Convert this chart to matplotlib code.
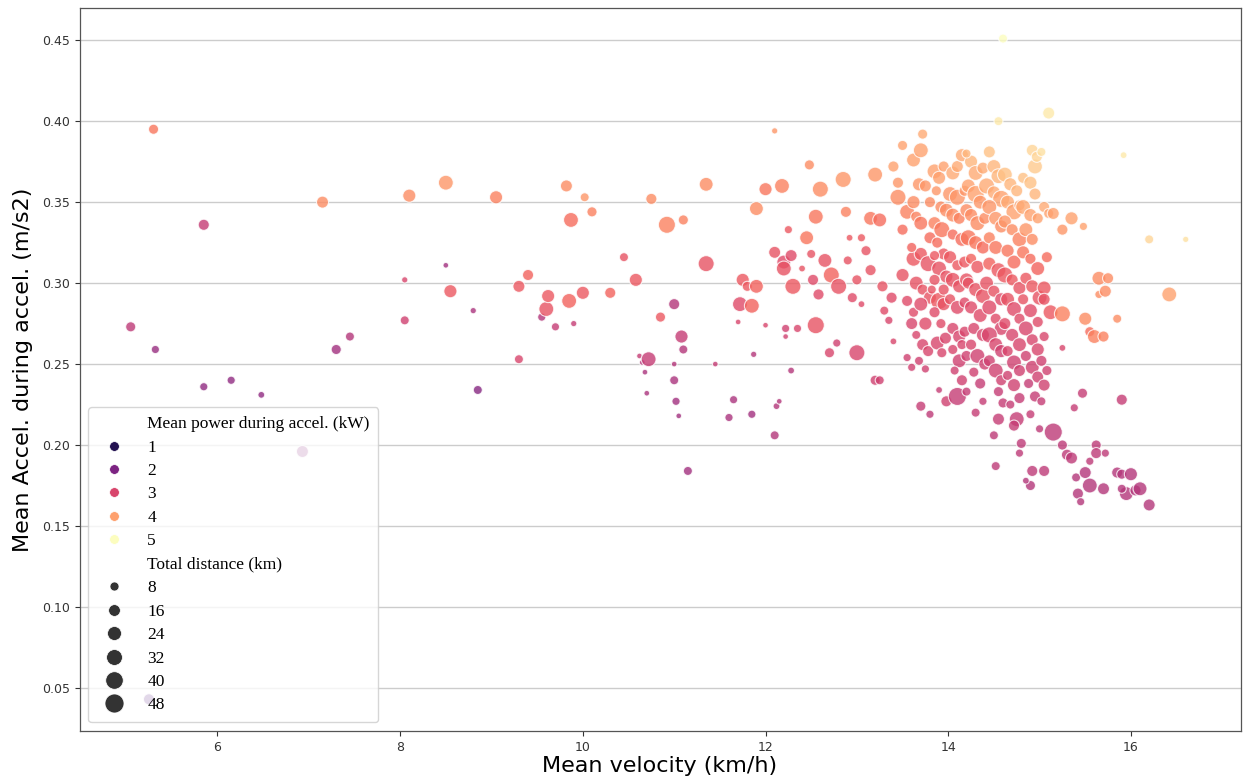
import matplotlib
matplotlib.use("Agg")
import matplotlib.pyplot as plt
from matplotlib.lines import Line2D
from matplotlib.colors import Normalize
import numpy as np

# mean velocity (km/h), grouped in vertical bands
velocity = [
    # left part, up to 13.6
    5.30, 5.05, 5.32, 5.85, 5.85, 6.15, 6.48, 6.93, 5.25, 7.15, 7.30, 7.45, 8.05, 8.05, 8.10, 8.50, 8.50, 8.55, 8.80, 8.85,
    9.05, 9.30, 9.30, 9.40, 9.55, 9.60, 9.62, 9.70, 9.82, 9.85, 9.87, 9.90, 10.00, 10.02, 10.10, 10.30, 10.45, 10.58, 10.62, 10.65,
    10.72, 10.68, 10.70, 10.75, 10.85, 10.92, 11.00, 11.00, 11.00, 11.02, 11.05, 11.08, 11.10, 11.10, 11.15, 11.35, 11.35, 11.45, 11.60, 11.65,
    11.70, 11.72, 11.75, 11.80, 11.85, 11.85, 11.87, 11.90, 11.90, 12.00, 12.00, 12.10, 12.10, 12.10, 12.12, 12.15, 12.18, 12.20, 12.20, 12.22,
    12.22, 12.25, 12.28, 12.28, 12.30, 12.35, 12.40, 12.45, 12.48, 12.50, 12.52, 12.55, 12.55, 12.58, 12.60, 12.65, 12.70, 12.72, 12.78, 12.80,
    12.85, 12.88, 12.90, 12.92, 12.95, 13.00, 13.00, 13.05, 13.05, 13.10, 13.15, 13.15, 13.20, 13.20, 13.25, 13.25, 13.28, 13.30, 13.35, 13.38,
    13.40, 13.45, 13.45, 13.50, 13.50, 13.50, 13.55, 13.55, 13.55, 13.60, 13.60,
    # 13.6 - 13.8
    13.62, 13.70, 13.72, 13.68, 13.75, 13.65, 13.70, 13.62, 13.70, 13.78, 13.65, 13.72, 13.80, 13.62, 13.70, 13.75, 13.65, 13.72, 13.78, 13.68,
    13.70, 13.80, 13.75, 13.60, 13.80, 13.80, 13.62,
    # 13.8 - 14.0
    13.85, 13.90, 13.95, 13.87, 13.92, 13.98, 13.85, 13.93, 13.88, 13.95, 13.85, 13.90, 13.98, 13.85, 13.90, 13.95, 13.85, 13.92, 13.88, 13.97,
    13.93, 13.90, 13.98, 13.95, 13.82,
    # 14.0 - 14.2
    14.05, 14.10, 14.15, 14.02, 14.10, 14.18, 14.05, 14.12, 14.20, 14.05, 14.15, 14.02, 14.10, 14.18, 14.05, 14.12, 14.20, 14.02, 14.10, 14.18,
    14.05, 14.12, 14.18, 14.05, 14.12, 14.20, 14.07, 14.15, 14.10, 14.20, 14.15,
    # 14.2 - 14.4
    14.25, 14.30, 14.38, 14.22, 14.30, 14.35, 14.25, 14.32, 14.40, 14.22, 14.30, 14.38, 14.25, 14.32, 14.22, 14.30, 14.38, 14.25, 14.35, 14.28,
    14.38, 14.25, 14.32, 14.40, 14.28, 14.35, 14.30, 14.38,
    # 14.4 - 14.6
    14.45, 14.50, 14.55, 14.42, 14.50, 14.58, 14.45, 14.52, 14.58, 14.45, 14.52, 14.45, 14.55, 14.42, 14.50, 14.58, 14.45, 14.52, 14.58, 14.45,
    14.52, 14.58, 14.45, 14.52, 14.58, 14.55, 14.55, 14.50, 14.52, 14.60,
    # 14.6 - 14.8
    14.62, 14.68, 14.75, 14.65, 14.72, 14.78, 14.62, 14.70, 14.78, 14.65, 14.72, 14.62, 14.70, 14.78, 14.65, 14.72, 14.78, 14.62, 14.70, 14.78,
    14.65, 14.72, 14.78, 14.65, 14.72, 14.78, 14.68, 14.75, 14.80, 14.72, 14.78,
    # 14.8 - 15.0
    14.82, 14.90, 14.95, 14.82, 14.90, 14.98, 14.85, 14.92, 14.82, 14.90, 14.98, 14.85, 14.92, 15.00, 14.82, 14.90, 14.98, 14.85, 14.92, 14.98,
    14.85, 14.92, 14.98, 14.88, 14.95, 14.90, 14.92, 14.90, 14.85, 15.00, 14.95, 14.92, 14.97,
    # 15.0 - 15.3
    15.02, 15.05, 15.10, 15.08, 15.05, 15.05, 15.12, 15.05, 15.02, 15.08, 15.05, 15.02, 15.05, 15.15, 15.15, 15.25, 15.25, 15.25, 15.30, 15.25,
    # above 15.3
    15.35, 15.35, 15.65, 15.75, 15.38, 15.47, 15.40, 15.42, 15.45, 15.50, 15.55, 15.55, 15.62, 15.62, 15.72, 15.70, 15.50, 15.48, 15.55, 15.60,
    15.65, 15.72, 15.70, 15.85, 15.85, 15.90, 15.90, 15.95, 16.00, 16.05, 16.10, 16.20, 15.90, 15.92, 16.20, 16.60, 16.42,
    # top outliers
    14.60, 14.55, 15.10, 14.20, 13.40,
]

# mean acceleration during acceleration (m/s2)
accel = [
    0.395, 0.273, 0.259, 0.336, 0.236, 0.240, 0.231, 0.196, 0.043, 0.350, 0.259, 0.267, 0.302, 0.277, 0.354, 0.311, 0.362, 0.295, 0.283, 0.234,
    0.353, 0.298, 0.253, 0.305, 0.279, 0.284, 0.292, 0.273, 0.360, 0.289, 0.339, 0.275, 0.294, 0.353, 0.344, 0.294, 0.316, 0.302, 0.255, 0.251,
    0.253, 0.245, 0.232, 0.352, 0.279, 0.336, 0.287, 0.250, 0.240, 0.227, 0.218, 0.267, 0.339, 0.259, 0.184, 0.312, 0.361, 0.250, 0.217, 0.228,
    0.276, 0.287, 0.302, 0.298, 0.286, 0.219, 0.256, 0.298, 0.346, 0.358, 0.274, 0.394, 0.319, 0.206, 0.224, 0.227, 0.360, 0.313, 0.309, 0.272,
    0.267, 0.333, 0.317, 0.246, 0.298, 0.272, 0.309, 0.328, 0.373, 0.318, 0.302, 0.341, 0.274, 0.293, 0.358, 0.314, 0.257, 0.305, 0.263, 0.298,
    0.364, 0.344, 0.314, 0.328, 0.291, 0.257, 0.302, 0.328, 0.287, 0.320, 0.340, 0.308, 0.367, 0.240, 0.240, 0.339, 0.298, 0.283, 0.277, 0.291,
    0.264, 0.362, 0.353, 0.385, 0.333, 0.305, 0.344, 0.254, 0.289, 0.248, 0.275,
    0.376, 0.382, 0.392, 0.361, 0.360, 0.341, 0.337, 0.315, 0.318, 0.312, 0.300, 0.296, 0.291, 0.282, 0.287, 0.275, 0.268, 0.262, 0.258, 0.252,
    0.224, 0.219, 0.247, 0.322, 0.328, 0.350, 0.350,
    0.369, 0.365, 0.372, 0.357, 0.347, 0.345, 0.337, 0.333, 0.325, 0.318, 0.317, 0.309, 0.304, 0.302, 0.289, 0.287, 0.282, 0.275, 0.263, 0.266,
    0.257, 0.234, 0.227, 0.296, 0.296,
    0.368, 0.372, 0.379, 0.355, 0.353, 0.357, 0.342, 0.340, 0.345, 0.330, 0.327, 0.316, 0.311, 0.313, 0.302, 0.298, 0.302, 0.290, 0.285, 0.288,
    0.272, 0.267, 0.270, 0.259, 0.252, 0.255, 0.246, 0.240, 0.230, 0.233, 0.262,
    0.375, 0.368, 0.371, 0.360, 0.355, 0.350, 0.342, 0.337, 0.340, 0.328, 0.325, 0.322, 0.315, 0.310, 0.300, 0.296, 0.292, 0.285, 0.280, 0.272,
    0.268, 0.262, 0.255, 0.250, 0.245, 0.238, 0.220, 0.227,
    0.381, 0.372, 0.366, 0.360, 0.356, 0.352, 0.347, 0.340, 0.335, 0.328, 0.322, 0.312, 0.308, 0.300, 0.295, 0.290, 0.285, 0.278, 0.272, 0.268,
    0.262, 0.258, 0.252, 0.246, 0.240, 0.233, 0.216, 0.206, 0.187, 0.226,
    0.367, 0.361, 0.357, 0.350, 0.344, 0.348, 0.338, 0.333, 0.327, 0.320, 0.313, 0.305, 0.302, 0.297, 0.290, 0.284, 0.278, 0.275, 0.268, 0.262,
    0.258, 0.251, 0.246, 0.243, 0.237, 0.229, 0.225, 0.216, 0.201, 0.212, 0.195,
    0.365, 0.362, 0.355, 0.347, 0.342, 0.340, 0.333, 0.327, 0.319, 0.315, 0.309, 0.303, 0.298, 0.291, 0.290, 0.283, 0.276, 0.272, 0.265, 0.259,
    0.255, 0.248, 0.242, 0.238, 0.230, 0.219, 0.184, 0.175, 0.178, 0.210, 0.372, 0.382, 0.378,
    0.381, 0.347, 0.343, 0.316, 0.297, 0.290, 0.282, 0.267, 0.252, 0.246, 0.237, 0.227, 0.184, 0.208, 0.343, 0.333, 0.260, 0.200, 0.194, 0.281,
    0.192, 0.340, 0.303, 0.303, 0.223, 0.232, 0.180, 0.170, 0.165, 0.183, 0.175, 0.190, 0.200, 0.195, 0.195, 0.173, 0.278, 0.335, 0.270, 0.267,
    0.293, 0.295, 0.267, 0.278, 0.183, 0.182, 0.228, 0.170, 0.182, 0.172, 0.173, 0.163, 0.173, 0.379, 0.327, 0.327, 0.293,
    0.451, 0.400, 0.405, 0.380, 0.372,
]

# mean power during acceleration (kW)
power = [
    3.6, 2.7, 2.3, 2.8, 2.2, 2.2, 2.2, 2.2, 1.5, 3.8, 2.4, 2.6, 3.0, 2.9, 3.8, 2.4, 3.9, 3.3, 2.5, 2.1,
    3.7, 3.3, 3.0, 3.4, 2.6, 3.2, 3.3, 2.8, 3.8, 3.4, 3.5, 2.8, 3.3, 3.9, 3.7, 3.4, 3.2, 3.3, 2.8, 2.6,
    2.8, 2.5, 2.5, 3.8, 3.3, 3.7, 2.6, 2.6, 2.5, 2.4, 2.4, 2.8, 3.7, 2.6, 2.4, 3.2, 3.8, 2.8, 2.5, 2.5,
    3.0, 3.1, 3.3, 3.3, 3.4, 2.4, 2.6, 3.4, 3.8, 3.6, 3.0, 3.9, 3.2, 2.6, 2.6, 2.6, 3.7, 3.1, 3.2, 2.9,
    2.9, 3.3, 3.1, 2.6, 3.3, 3.0, 3.2, 3.6, 3.8, 3.2, 3.1, 3.6, 3.2, 3.1, 3.8, 3.2, 3.0, 3.4, 2.9, 3.2,
    3.9, 3.7, 3.2, 3.3, 3.1, 3.0, 3.2, 3.3, 3.1, 3.2, 3.6, 3.2, 3.9, 2.9, 2.9, 3.5, 3.2, 3.1, 3.0, 3.1,
    3.0, 3.9, 3.8, 4.0, 3.5, 3.2, 3.7, 2.9, 3.1, 2.9, 3.0,
    4.0, 4.0, 4.1, 3.9, 3.9, 3.7, 3.6, 3.3, 3.3, 3.2, 3.2, 3.2, 3.2, 3.1, 3.1, 3.1, 3.0, 3.0, 3.0, 2.9,
    2.8, 2.7, 2.9, 3.4, 3.5, 3.8, 3.8,
    4.0, 4.0, 4.0, 3.9, 3.8, 3.8, 3.7, 3.6, 3.5, 3.3, 3.3, 3.2, 3.2, 3.2, 3.3, 3.2, 3.1, 3.1, 3.0, 3.0,
    3.0, 2.8, 2.9, 3.2, 3.2,
    4.1, 4.1, 4.1, 3.9, 3.9, 3.9, 3.8, 3.7, 3.8, 3.5, 3.5, 3.3, 3.3, 3.3, 3.2, 3.2, 3.2, 3.2, 3.1, 3.1,
    3.0, 3.0, 3.0, 3.0, 2.9, 2.9, 2.9, 2.9, 2.8, 2.8, 3.0,
    4.2, 4.1, 4.1, 4.0, 4.0, 3.9, 3.8, 3.8, 3.8, 3.6, 3.6, 3.5, 3.4, 3.3, 3.2, 3.2, 3.2, 3.1, 3.1, 3.0,
    3.0, 3.0, 2.9, 2.9, 2.9, 2.8, 2.8, 2.8,
    4.3, 4.2, 4.2, 4.1, 4.1, 4.0, 3.9, 3.9, 3.8, 3.7, 3.6, 3.4, 3.3, 3.2, 3.2, 3.1, 3.1, 3.1, 3.0, 3.0,
    3.0, 2.9, 2.9, 2.9, 2.9, 2.8, 2.8, 2.7, 2.7, 2.8,
    4.3, 4.2, 4.2, 4.1, 4.0, 4.0, 3.9, 3.8, 3.7, 3.6, 3.5, 3.3, 3.3, 3.2, 3.2, 3.1, 3.1, 3.1, 3.0, 3.0,
    3.0, 2.9, 2.9, 2.9, 2.9, 2.8, 2.8, 2.8, 2.7, 2.8, 2.7,
    4.3, 4.3, 4.2, 4.1, 4.0, 4.0, 3.9, 3.8, 3.6, 3.5, 3.4, 3.3, 3.3, 3.2, 3.2, 3.1, 3.1, 3.0, 3.0, 3.0,
    2.9, 2.9, 2.9, 2.8, 2.8, 2.8, 2.7, 2.6, 2.6, 2.7, 4.4, 4.5, 4.5,
    4.6, 4.1, 4.0, 3.5, 3.3, 3.2, 3.3, 3.0, 2.9, 2.9, 2.9, 2.8, 2.7, 2.7, 4.0, 3.9, 3.0, 2.7, 2.7, 3.7,
    2.7, 4.0, 3.8, 3.8, 2.8, 2.8, 2.6, 2.6, 2.6, 2.6, 2.6, 2.7, 2.7, 2.7, 2.7, 2.6, 3.8, 4.0, 3.5, 3.7,
    3.8, 3.8, 3.7, 3.8, 2.6, 2.6, 2.8, 2.6, 2.6, 2.6, 2.6, 2.6, 2.6, 4.7, 4.5, 4.6, 4.0,
    4.9, 4.7, 4.7, 4.2, 4.0,
]

# total distance (km)
distance = [
    11, 11, 6, 14, 6, 6, 3, 17, 14, 17, 11, 8, 2, 8, 21, 1, 28, 21, 2, 8,
    21, 17, 8, 14, 6, 28, 21, 6, 17, 28, 28, 2, 21, 8, 11, 14, 8, 21, 1, 1,
    28, 1, 1, 14, 11, 38, 14, 1, 8, 6, 1, 21, 11, 8, 8, 33, 24, 1, 6, 6,
    1, 28, 21, 11, 28, 6, 2, 24, 24, 21, 1, 2, 17, 8, 3, 1, 28, 24, 28, 6,
    1, 6, 17, 3, 33, 6, 3, 24, 11, 8, 14, 28, 38, 14, 33, 24, 11, 33, 6, 33,
    33, 14, 8, 3, 11, 33, 11, 6, 3, 11, 24, 14, 28, 11, 8, 24, 14, 8, 6, 14,
    3, 14, 33, 11, 14, 21, 28, 6, 14, 6, 17,
    24, 28, 11, 21, 17, 14, 24, 28, 21, 33, 24, 14, 21, 11, 24, 21, 8, 17, 14, 8,
    11, 6, 6, 11, 17, 14, 21,
    28, 21, 14, 11, 17, 24, 21, 33, 14, 17, 11, 28, 21, 14, 38, 21, 14, 11, 24, 17,
    11, 3, 14, 14, 8,
    24, 17, 21, 28, 33, 14, 24, 17, 21, 14, 24, 21, 14, 17, 28, 21, 24, 14, 24, 14,
    17, 21, 14, 11, 24, 14, 8, 14, 43, 8, 11,
    21, 28, 17, 24, 38, 24, 21, 28, 17, 33, 24, 21, 14, 21, 17, 24, 28, 21, 24, 17,
    21, 14, 28, 17, 11, 14, 8, 6,
    17, 24, 28, 33, 21, 38, 28, 24, 21, 17, 24, 21, 28, 24, 17, 21, 28, 14, 24, 33,
    24, 21, 17, 28, 14, 11, 17, 8, 8, 11,
    28, 21, 17, 24, 33, 14, 21, 17, 28, 21, 24, 33, 17, 21, 24, 28, 14, 17, 21, 24,
    14, 28, 17, 11, 21, 14, 8, 28, 11, 14, 6,
    14, 21, 17, 28, 21, 14, 24, 17, 21, 14, 24, 17, 21, 28, 14, 24, 14, 28, 17, 21,
    14, 24, 17, 11, 14, 8, 14, 11, 3, 6, 28, 17, 14,
    8, 14, 11, 14, 24, 17, 28, 11, 14, 11, 17, 8, 14, 43, 17, 14, 3, 11, 14, 33,
    17, 21, 24, 14, 6, 11, 8, 14, 6, 17, 28, 6, 11, 14, 6, 17, 21, 6, 11, 24,
    6, 17, 14, 8, 14, 11, 14, 24, 21, 14, 24, 17, 8, 3, 8, 2, 28,
    8, 8, 17, 8, 14,
]

power_ticks = [1, 2, 3, 4, 5]
distance_ticks = [8, 16, 24, 32, 40, 48]

assert len(velocity) == len(accel) == len(power) == len(distance), (
    len(velocity), len(accel), len(power), len(distance))

cmap = plt.get_cmap("magma")
norm = Normalize(vmin=0.35, vmax=4.9)


def marker_area(d):
    return 13 + 3.63 * np.asarray(d, dtype=float)


fig, ax = plt.subplots(figsize=(12.43, 7.8), dpi=100)
fig.subplots_adjust(left=0.064, right=0.998, top=0.990, bottom=0.063)

ax.scatter(velocity, accel, s=marker_area(distance), c=power, cmap=cmap, norm=norm,
           alpha=0.8, edgecolors="white", linewidths=0.8, zorder=3)

ax.set_xlim(4.49, 17.2)
ax.set_ylim(0.0235, 0.470)
ax.set_xticks([6, 8, 10, 12, 14, 16])
ax.set_yticks([0.05, 0.10, 0.15, 0.20, 0.25, 0.30, 0.35, 0.40, 0.45])
ax.set_yticklabels(["0.05", "0.10", "0.15", "0.20", "0.25", "0.30", "0.35", "0.40", "0.45"])
ax.tick_params(labelsize=9, colors="#333333")
ax.grid(axis="y", color="#cccccc", linewidth=1, zorder=0)
ax.set_axisbelow(True)
for sp in ax.spines.values():
    sp.set_color("#555555")
    sp.set_linewidth(0.9)

ax.set_xlabel("Mean velocity (km/h)", fontsize=16, labelpad=2)
ax.set_ylabel("Mean Accel. during accel. (m/s2)", fontsize=16, labelpad=6)

# legend in seaborn style: subtitle rows + colour rows + size rows
handles = [Line2D([], [], linestyle="", marker="")]
labels = ["Mean power during accel. (kW)"]
for p in power_ticks:
    handles.append(Line2D([], [], linestyle="", marker="o", markersize=7,
                          markerfacecolor=cmap(norm(p)), markeredgecolor="white", markeredgewidth=0.5))
    labels.append(str(p))
handles.append(Line2D([], [], linestyle="", marker=""))
labels.append("Total distance (km)")
for d in distance_ticks:
    handles.append(Line2D([], [], linestyle="", marker="o", markersize=np.sqrt(marker_area(d)),
                          markerfacecolor="#333333", markeredgecolor="white", markeredgewidth=0.5))
    labels.append(str(d))

leg = ax.legend(handles, labels, loc="lower left", prop={"family": "Liberation Serif", "size": 12.5},
                labelspacing=0.42, handletextpad=0.9, borderpad=0.5, framealpha=0.8)
leg.set_zorder(5)

fig.savefig("out.png", dpi=100)
